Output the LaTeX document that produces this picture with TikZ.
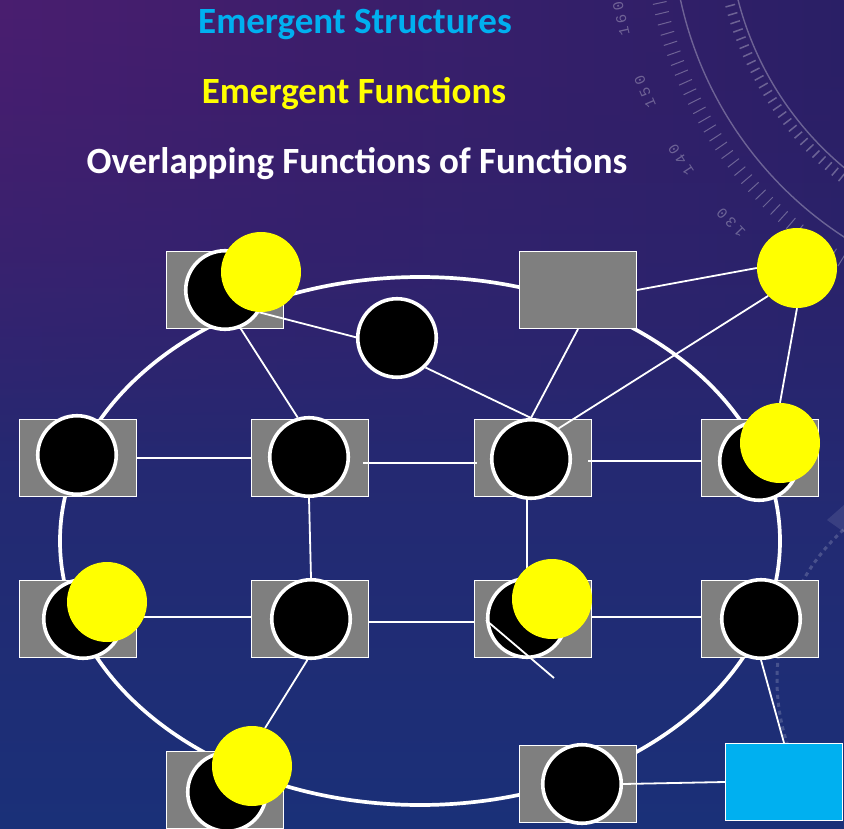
\documentclass[tikz,border=0pt]{standalone}
\usepackage{fontspec}
\setmainfont{Carlito}
\newfontfamily\decofont[LetterSpace=25]{Liberation Mono}
\usetikzlibrary{calc,fadings}
\definecolor{bgtop}{HTML}{32206A}
\definecolor{bgbot}{HTML}{1A3078}
\definecolor{bgpurple}{HTML}{4A1E70}
\definecolor{bgright}{HTML}{2A1F66}
\definecolor{boxgray}{HTML}{7F7F7F}
\definecolor{skyblue}{HTML}{00B0F0}
\definecolor{fnyellow}{HTML}{FFFF00}
\pgfdeclarelayer{bg}
\pgfdeclarelayer{ringlayer}
\pgfdeclarelayer{rects}
\pgfdeclarelayer{links}
\pgfsetlayers{bg,ringlayer,rects,links,main}
\begin{document}
\begin{tikzpicture}[x=1pt,y=1pt,
  rbox/.style={rectangle, fill=boxgray, draw=white, line width=1.2pt, minimum width=117pt, minimum height=77pt, inner sep=0pt},
  cbox/.style={rbox, fill=skyblue},
  bdot/.style={circle, fill=black, draw=white, line width=3.6pt, minimum size=78.5pt, inner sep=0pt},
  ydot/.style={circle, fill=fnyellow, minimum size=80pt, inner sep=0pt},
  link/.style={draw=white, line width=1.8pt},
  ring/.style={draw=white, line width=3.7pt},
  deco/.style={draw=white, draw opacity=0.3, line width=1pt},
  title/.style={font=\fontsize{37}{40}\selectfont\bfseries, anchor=base, inner sep=0pt}]
\useasboundingbox (0,0) rectangle (844,-829);
\clip (0,0) rectangle (844,-829);

% background
\begin{pgfonlayer}{bg}
\shade[top color=bgtop, bottom color=bgbot] (0,0) rectangle (844,-829);
\shade[left color=bgpurple, right color=bgright, path fading=south] (0,0) rectangle (844,-460);
% protractor decoration
\coordinate (C) at (1050,80);
\draw[deco, line width=1.4pt] ($(C)+(180:378)$) arc[start angle=180, end angle=250, radius=378pt];
\draw[deco, line width=1.4pt] ($(C)+(180:322)$) arc[start angle=180, end angle=250, radius=322pt];
\foreach \a in {180,181.5,...,250} {
  \draw[deco] ($(C)+(\a:392)$) -- ($(C)+(\a:406)$);
}
\foreach \a in {180,181.5,...,250} {
  \draw[deco, line width=1.5pt] ($(C)+(\a:326)$) -- ($(C)+(\a:336)$);
}
\foreach \n/\a in {160/193,150/203,140/213,130/223.5} {
  \node[text=white, opacity=0.3, font=\decofont\fontsize{15}{16}\selectfont, rotate=\a-90, inner sep=0pt] at ($(C)+(\a:440)$) {\n};
}
\draw[draw=white, draw opacity=0.18, line width=3pt, dash pattern=on 4pt off 4pt] ($(980,-680)+(130:203)$) arc[start angle=130, end angle=200, radius=203pt];
\fill[white, opacity=0.1] (827,-520) -- (844,-505) -- (844,-532) -- cycle;
\end{pgfonlayer}

% titles
\node[title, text=skyblue] (t1) at (355,-34) {Emergent Structures};
\node[title, text=fnyellow] (t2) at (354,-104) {Emergent Functions};
\node[title, text=white] (t3) at (357,-174) {Overlapping Functions of Functions};

% big ring
\begin{pgfonlayer}{ringlayer}
\draw[ring] (420,-541) ellipse [x radius=360pt, y radius=264pt];
\end{pgfonlayer}

% rectangles
\begin{pgfonlayer}{rects}
\node[rbox] (R0a) at (225,-290) {};
\node[rbox] (R0b) at (578,-290) {};
\node[rbox] (R1a) at (78,-458) {};
\node[rbox] (R1b) at (310,-458) {};
\node[rbox] (R1c) at (533,-458) {};
\node[rbox] (R1d) at (760,-458) {};
\node[rbox] (R2a) at (78,-619) {};
\node[rbox] (R2b) at (310,-619) {};
\node[rbox] (R2c) at (533,-619) {};
\node[rbox] (R2d) at (760,-619) {};
\node[rbox] (R3a) at (225,-790) {};
\node[rbox] (R3b) at (578,-784) {};
\node[cbox] (cyan) at (784,-782) {};
\end{pgfonlayer}

% black circles
\node[bdot] (c0a) at (225,-290) {};
\node[bdot] (cs)  at (397,-338) {};
\node[bdot] (c1a) at (77,-455) {};
\node[bdot] (c1b) at (309,-457) {};
\node[bdot] (c1c) at (531,-459) {};
\node[bdot] (c1d) at (759,-461) {};
\node[bdot] (c2a) at (83,-619) {};
\node[bdot] (c2b) at (311,-619) {};
\node[bdot] (c2c) at (527,-618) {};
\node[bdot] (c2d) at (761,-619) {};
\node[bdot] (c3a) at (227,-792) {};
\node[bdot] (c3b) at (582,-784) {};

% yellow circles
\node[ydot] (y0a) at (261,-272) {};
\node[ydot] (Y0)  at (797,-268) {};
\node[ydot] (y1d) at (780,-443) {};
\node[ydot] (y2a) at (107,-602) {};
\node[ydot] (y2c) at (552,-599) {};
\node[ydot] (y3a) at (252,-766) {};

% connectors
\begin{pgfonlayer}{links}
\draw[link] (R1a.east) -- (R1b.west);
\draw[link] ([shift={(-6,-5)}]R1b.east) -- ([shift={(3,-5)}]R1c.west);
\draw[link] ([shift={(-4,-3)}]R1c.east) -- ([yshift=-3]R1d.west);
\draw[link] ([yshift=2]R2a.center) -- ([yshift=2]R2b.west);
\draw[link] ([yshift=-3]R2b.east) -- ([yshift=-3]R2c.west);
\draw[link] ([yshift=2]R2c.east) -- ([shift={(1,2)}]R2d.west);
\draw[link] (c1b.south) -- (c2b.north);
\draw[link] (c1c.south -| c2c.north) -- (c2c.north);
\draw[link] (c2b.-95) -- (y3a.71);
\draw[link] (c2d.south) -- (cyan.north);
\draw[link] (c3b.east) -- (cyan.west);
\draw[link] (c0a.-68) -- (c1b.106);
\draw[link] (c0a.-33) -- (cs.179);
\draw[link] (cs.-46) -- (c1c.north);
\draw[link] (R0b.south) -- (c1c.north);
\draw[link] (Y0.-136) -- (c1c.48);
\draw[link] (R0b.east) -- (Y0.west);
\draw[link] (Y0.south) -- (y1d.north);
\end{pgfonlayer}

% loose line over the lower middle node
\coordinate (oddend) at (554,-678);
\draw[link] (c2c.183) -- (oddend);
\end{tikzpicture}
\end{document}
